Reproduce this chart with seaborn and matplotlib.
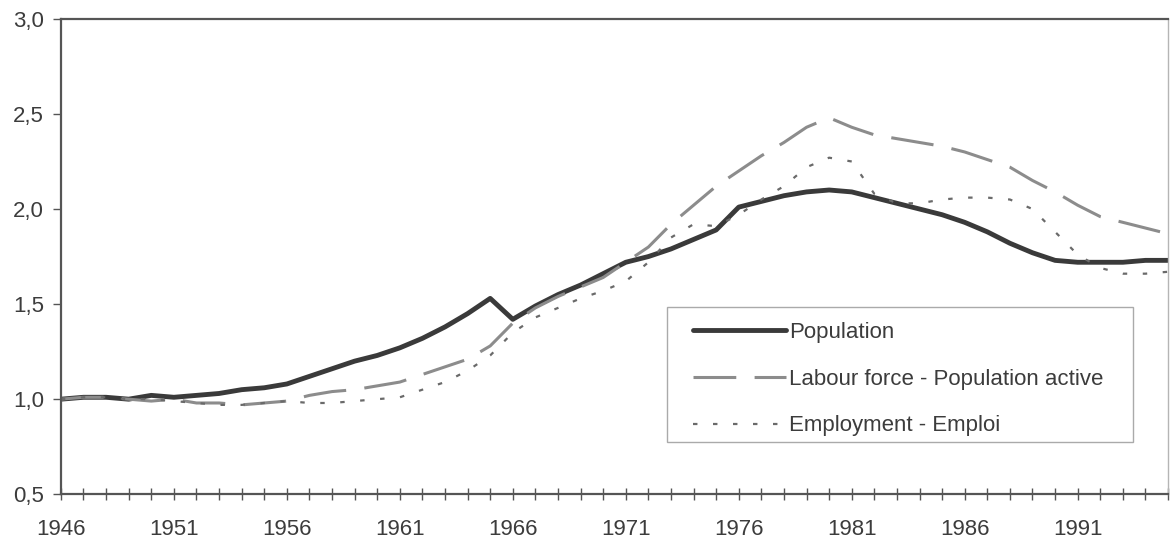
import pandas as pd
import seaborn as sns
import matplotlib.pyplot as plt
from matplotlib.patches import Rectangle
from matplotlib.ticker import FuncFormatter, MultipleLocator

years = list(range(1946, 1996))

population = [1.00, 1.01, 1.01, 1.00, 1.02, 1.01, 1.02, 1.03, 1.05, 1.06,
              1.08, 1.12, 1.16, 1.20, 1.23, 1.27, 1.32, 1.38, 1.45, 1.53,
              1.42, 1.49, 1.55, 1.60, 1.66, 1.72, 1.75, 1.79, 1.84, 1.89,
              2.01, 2.04, 2.07, 2.09, 2.10, 2.09, 2.06, 2.03, 2.00, 1.97,
              1.93, 1.88, 1.82, 1.77, 1.73, 1.72, 1.72, 1.72, 1.73, 1.73]

labour_force = [1.00, 1.01, 1.01, 1.00, 0.99, 1.00, 0.98, 0.98, 0.97, 0.98,
                0.99, 1.02, 1.04, 1.05, 1.07, 1.09, 1.13, 1.17, 1.21, 1.28,
                1.40, 1.48, 1.54, 1.59, 1.64, 1.72, 1.80, 1.92, 2.02, 2.12,
                2.20, 2.28, 2.35, 2.43, 2.48, 2.43, 2.39, 2.37, 2.35, 2.33,
                2.30, 2.26, 2.22, 2.15, 2.09, 2.02, 1.96, 1.93, 1.90, 1.87]

employment = [1.00, 1.01, 1.01, 1.00, 1.00, 0.99, 0.98, 0.97, 0.97, 0.98,
              0.99, 0.98, 0.98, 0.99, 1.00, 1.01, 1.05, 1.09, 1.15, 1.23,
              1.35, 1.43, 1.48, 1.53, 1.57, 1.62, 1.72, 1.85, 1.92, 1.91,
              1.97, 2.05, 2.12, 2.22, 2.27, 2.25, 2.08, 2.03, 2.03, 2.05,
              2.06, 2.06, 2.05, 2.00, 1.88, 1.76, 1.69, 1.66, 1.66, 1.67]

labels = ['Population', 'Labour force - Population active', 'Employment - Emploi']
year_ticks = list(range(1946, 1996, 5))

df = pd.DataFrame({'year': years, labels[0]: population,
                   labels[1]: labour_force, labels[2]: employment})

sns.set_style('ticks')
plt.rcParams['font.family'] = ['Liberation Sans', 'DejaVu Sans']

fig = plt.figure(figsize=(11.71, 5.39), dpi=100)
ax = fig.add_axes([0.052, 0.083, 0.9455, 0.882])

sns.lineplot(data=df, x='year', y=labels[0], ax=ax, color='#3a3a3a',
             linewidth=3.5, label=labels[0])
sns.lineplot(data=df, x='year', y=labels[1], ax=ax, color='#8c8c8c',
             linewidth=2.2, dashes=(14, 6), label=labels[1])
sns.lineplot(data=df, x='year', y=labels[2], ax=ax, color='#6a6a6a',
             linewidth=1.6, dashes=(2, 7), label=labels[2])

ax.set_xlim(1946, 1995)
ax.set_ylim(0.5, 3.0)
ax.set_xlabel('')
ax.set_ylabel('')
ax.set_xticks(year_ticks)
ax.xaxis.set_minor_locator(MultipleLocator(1))
ax.yaxis.set_major_locator(MultipleLocator(0.5))
ax.yaxis.set_major_formatter(FuncFormatter(lambda v, p: f'{v:.1f}'.replace('.', ',')))
ax.tick_params(axis='x', which='both', direction='inout', length=9, width=1,
               color='#555555', labelsize=16, labelcolor='#3c3c3c', pad=13)
ax.tick_params(axis='y', which='major', direction='out', length=6, width=1,
               color='#555555', labelsize=16, labelcolor='#3c3c3c', pad=6)

for side in ['left', 'top', 'bottom']:
    ax.spines[side].set_color('#555555')
    ax.spines[side].set_linewidth(1.6)
ax.spines['right'].set_color('#b5b5b5')
ax.spines['right'].set_linewidth(1)

# legend frame drawn separately so the handles can sit inside with a wide left margin
ax.add_patch(Rectangle((0.547, 0.109), 0.421, 0.285, transform=ax.transAxes,
                       facecolor='white', edgecolor='#aaaaaa', linewidth=1, zorder=4))
leg = ax.legend(loc='upper left', bbox_to_anchor=(0.571, 0.362), fontsize=16,
                frameon=False, handlelength=4.2, handletextpad=0.1,
                labelspacing=1.15, borderpad=0, borderaxespad=0,
                labelcolor='#3c3c3c')
leg.set_zorder(5)

plt.savefig('out.png', dpi=100)
plt.close()
